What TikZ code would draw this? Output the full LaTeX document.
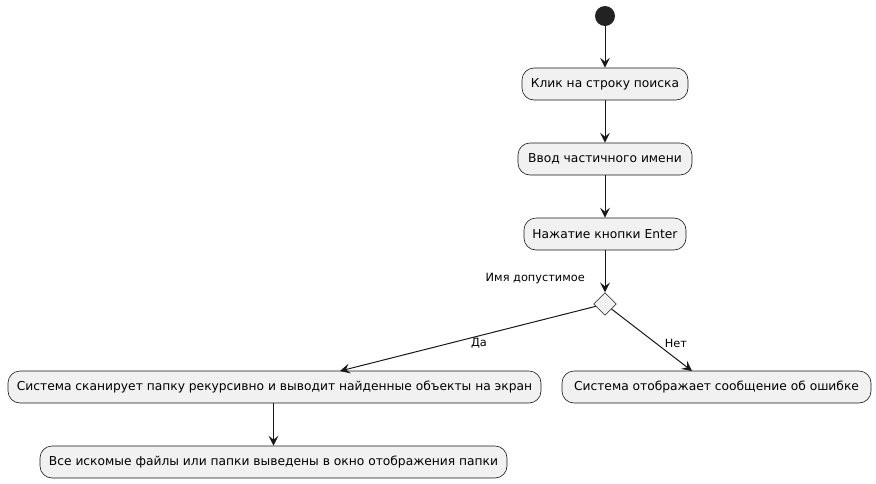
\documentclass[tikz,border=0pt]{standalone}
\usepackage{fontspec}
\setmainfont{DejaVu Sans}
\usetikzlibrary{arrows.meta,shapes.geometric}
\definecolor{boxfill}{HTML}{F1F1F1}
\definecolor{ln}{HTML}{181818}
\definecolor{startc}{HTML}{222222}
\begin{document}
\begin{tikzpicture}[x=0.75pt,y=-0.75pt,
  act/.style={draw=ln, fill=boxfill, rounded corners=9pt, minimum height=24pt, inner sep=0pt, font=\fontsize{9.2}{11}\selectfont, line width=0.45pt},
  arr/.style={draw=ln, line width=0.75pt, -{Stealth[length=7.5pt,width=7.5pt,inset=3pt]}},
  lbl/.style={font=\fontsize{8.5}{10}\selectfont, inner sep=0pt}]
\useasboundingbox (0,0) rectangle (876,483);
\node[circle, fill=startc, minimum size=15pt, inner sep=0pt] (s) at (605,16) {};
\node[act, minimum width=124.5pt] (b1) at (605,84) {Клик на строку поиска};
\node[act, minimum width=130.5pt] (b2) at (605,159) {Ввод частичного имени};
\node[act, minimum width=121.5pt] (b3) at (605,234) {Нажатие кнопки Enter};
\node[diamond, draw=ln, fill=boxfill, line width=0.45pt, minimum size=17pt, inner sep=0pt, aspect=1] (d) at (605,304) {};
\node[lbl, anchor=east] (q) at (585,279) {Имя допустимое};
\node[act, minimum width=399.75pt] (b4) at (274.5,387) {Система сканирует папку рекурсивно и выводит найденные объекты на экран};
\node[act, minimum width=231.75pt] (b5) at (716.5,387) {Система отображает сообщение об ошибке};
\node[act, minimum width=350.25pt] (b6) at (273.5,462) {Все искомые файлы или папки выведены в окно отображения папки};
\coordinate (e4) at (340,371);
\coordinate (e5) at (692,371);
\draw[arr] (s) -- (b1);
\draw[arr] (b1) -- (b2);
\draw[arr] (b2) -- (b3);
\draw[arr] (b3) -- (d);
\draw[arr] (d) -- (e4);
\draw[arr] (d) -- (e5);
\draw[arr] (b4.south -| b6.north) -- (b6.north);
\node[lbl] (yes) at (479,343) {Да};
\node[lbl] (no) at (676,343) {Нет};
\end{tikzpicture}
\end{document}
